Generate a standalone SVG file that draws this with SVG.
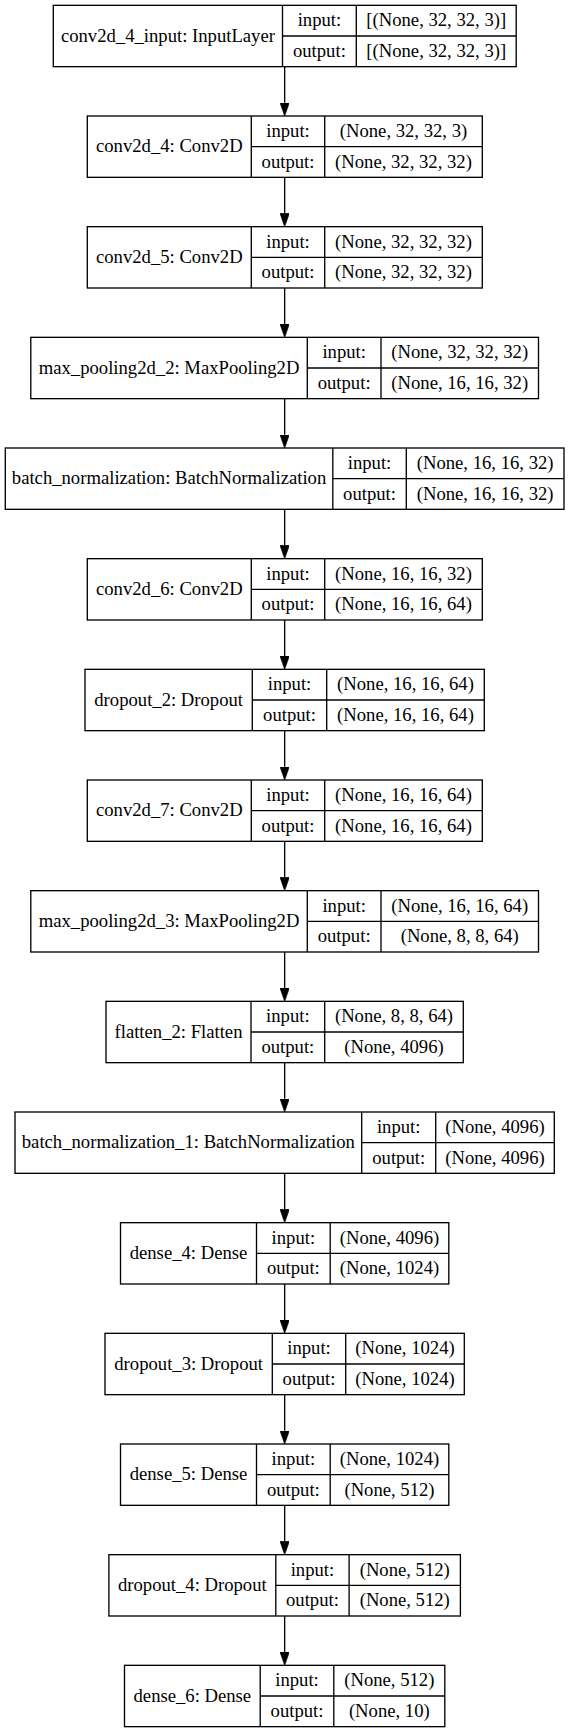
<svg xmlns="http://www.w3.org/2000/svg" width="569" height="1733" viewBox="0 0 569 1733">
<style>
.box{fill:#fff;stroke:#000;stroke-width:1.33}
.sep{stroke:#000;stroke-width:1.33}
text{font-family:"Liberation Serif","Times New Roman",serif;font-size:18.67px;fill:#000;text-anchor:middle}
.edge{stroke:#000;stroke-width:1.33;fill:none}
</style>
<defs>
<marker id="arr" viewBox="0 0 10 7" markerWidth="13.33" markerHeight="9.33" refX="0" refY="3.5" orient="auto" markerUnits="userSpaceOnUse">
<path d="M0,0 L10,3.5 L0,7 z" fill="#000" stroke="#000" stroke-width="0.5"/>
</marker>
</defs>
<rect width="569" height="1733" fill="#fff"/>
<g id="edges">
<line class="edge" x1="284.67" y1="66.67" x2="284.67" y2="102.67" marker-end="url(#arr)"/>
<line class="edge" x1="284.67" y1="177.33" x2="284.67" y2="213.33" marker-end="url(#arr)"/>
<line class="edge" x1="284.67" y1="288" x2="284.67" y2="324" marker-end="url(#arr)"/>
<line class="edge" x1="284.67" y1="398.67" x2="284.67" y2="434.67" marker-end="url(#arr)"/>
<line class="edge" x1="284.67" y1="509.33" x2="284.67" y2="545.33" marker-end="url(#arr)"/>
<line class="edge" x1="284.67" y1="620" x2="284.67" y2="656" marker-end="url(#arr)"/>
<line class="edge" x1="284.67" y1="730.67" x2="284.67" y2="766.67" marker-end="url(#arr)"/>
<line class="edge" x1="284.67" y1="841.33" x2="284.67" y2="877.33" marker-end="url(#arr)"/>
<line class="edge" x1="284.67" y1="952" x2="284.67" y2="988" marker-end="url(#arr)"/>
<line class="edge" x1="284.67" y1="1062.67" x2="284.67" y2="1098.67" marker-end="url(#arr)"/>
<line class="edge" x1="284.67" y1="1173.33" x2="284.67" y2="1209.33" marker-end="url(#arr)"/>
<line class="edge" x1="284.67" y1="1284" x2="284.67" y2="1320" marker-end="url(#arr)"/>
<line class="edge" x1="284.67" y1="1394.67" x2="284.67" y2="1430.67" marker-end="url(#arr)"/>
<line class="edge" x1="284.67" y1="1505.33" x2="284.67" y2="1541.33" marker-end="url(#arr)"/>
<line class="edge" x1="284.67" y1="1616" x2="284.67" y2="1652" marker-end="url(#arr)"/>
</g>

<g id="n0" transform="translate(0,5.33)">
<rect class="box" x="53.3" y="0" width="462.9" height="61.33"/>
<line class="sep" x1="282.5" y1="0" x2="282.5" y2="61.33"/>
<line class="sep" x1="356.3" y1="0" x2="356.3" y2="61.33"/>
<line class="sep" x1="282.5" y1="30.67" x2="516.2" y2="30.67"/>
<text x="167.9" y="36.3">conv2d_4_input: InputLayer</text>
<text x="319.4" y="20.9">input:</text>
<text x="319.4" y="51.6">output:</text>
<text x="436.25" y="20.9">[(None, 32, 32, 3)]</text>
<text x="436.25" y="51.6">[(None, 32, 32, 3)]</text>
</g>

<g id="n1" transform="translate(0,116)">
<rect class="box" x="87.3" y="0" width="395" height="61.33"/>
<line class="sep" x1="251.3" y1="0" x2="251.3" y2="61.33"/>
<line class="sep" x1="324.7" y1="0" x2="324.7" y2="61.33"/>
<line class="sep" x1="251.3" y1="30.67" x2="482.3" y2="30.67"/>
<text x="169.3" y="36.3">conv2d_4: Conv2D</text>
<text x="288" y="20.9">input:</text>
<text x="288" y="51.6">output:</text>
<text x="403.5" y="20.9">(None, 32, 32, 3)</text>
<text x="403.5" y="51.6">(None, 32, 32, 32)</text>
</g>

<g id="n2" transform="translate(0,226.67)">
<rect class="box" x="87.3" y="0" width="395" height="61.33"/>
<line class="sep" x1="251.3" y1="0" x2="251.3" y2="61.33"/>
<line class="sep" x1="324.7" y1="0" x2="324.7" y2="61.33"/>
<line class="sep" x1="251.3" y1="30.67" x2="482.3" y2="30.67"/>
<text x="169.3" y="36.3">conv2d_5: Conv2D</text>
<text x="288" y="20.9">input:</text>
<text x="288" y="51.6">output:</text>
<text x="403.5" y="20.9">(None, 32, 32, 32)</text>
<text x="403.5" y="51.6">(None, 32, 32, 32)</text>
</g>

<g id="n3" transform="translate(0,337.33)">
<rect class="box" x="30.8" y="0" width="507.7" height="61.33"/>
<line class="sep" x1="307.3" y1="0" x2="307.3" y2="61.33"/>
<line class="sep" x1="381" y1="0" x2="381" y2="61.33"/>
<line class="sep" x1="307.3" y1="30.67" x2="538.5" y2="30.67"/>
<text x="169.05" y="36.3">max_pooling2d_2: MaxPooling2D</text>
<text x="344.15" y="20.9">input:</text>
<text x="344.15" y="51.6">output:</text>
<text x="459.75" y="20.9">(None, 32, 32, 32)</text>
<text x="459.75" y="51.6">(None, 16, 16, 32)</text>
</g>

<g id="n4" transform="translate(0,448)">
<rect class="box" x="5.3" y="0" width="558.7" height="61.33"/>
<line class="sep" x1="332.8" y1="0" x2="332.8" y2="61.33"/>
<line class="sep" x1="406.3" y1="0" x2="406.3" y2="61.33"/>
<line class="sep" x1="332.8" y1="30.67" x2="564" y2="30.67"/>
<text x="169.05" y="36.3">batch_normalization: BatchNormalization</text>
<text x="369.55" y="20.9">input:</text>
<text x="369.55" y="51.6">output:</text>
<text x="485.15" y="20.9">(None, 16, 16, 32)</text>
<text x="485.15" y="51.6">(None, 16, 16, 32)</text>
</g>

<g id="n5" transform="translate(0,558.67)">
<rect class="box" x="87.3" y="0" width="395" height="61.33"/>
<line class="sep" x1="251.3" y1="0" x2="251.3" y2="61.33"/>
<line class="sep" x1="324.7" y1="0" x2="324.7" y2="61.33"/>
<line class="sep" x1="251.3" y1="30.67" x2="482.3" y2="30.67"/>
<text x="169.3" y="36.3">conv2d_6: Conv2D</text>
<text x="288" y="20.9">input:</text>
<text x="288" y="51.6">output:</text>
<text x="403.5" y="20.9">(None, 16, 16, 32)</text>
<text x="403.5" y="51.6">(None, 16, 16, 64)</text>
</g>

<g id="n6" transform="translate(0,669.33)">
<rect class="box" x="85" y="0" width="399.3" height="61.33"/>
<line class="sep" x1="252.3" y1="0" x2="252.3" y2="61.33"/>
<line class="sep" x1="326.7" y1="0" x2="326.7" y2="61.33"/>
<line class="sep" x1="252.3" y1="30.67" x2="484.3" y2="30.67"/>
<text x="168.65" y="36.3">dropout_2: Dropout</text>
<text x="289.5" y="20.9">input:</text>
<text x="289.5" y="51.6">output:</text>
<text x="405.5" y="20.9">(None, 16, 16, 64)</text>
<text x="405.5" y="51.6">(None, 16, 16, 64)</text>
</g>

<g id="n7" transform="translate(0,780)">
<rect class="box" x="87.3" y="0" width="395" height="61.33"/>
<line class="sep" x1="251.3" y1="0" x2="251.3" y2="61.33"/>
<line class="sep" x1="324.7" y1="0" x2="324.7" y2="61.33"/>
<line class="sep" x1="251.3" y1="30.67" x2="482.3" y2="30.67"/>
<text x="169.3" y="36.3">conv2d_7: Conv2D</text>
<text x="288" y="20.9">input:</text>
<text x="288" y="51.6">output:</text>
<text x="403.5" y="20.9">(None, 16, 16, 64)</text>
<text x="403.5" y="51.6">(None, 16, 16, 64)</text>
</g>

<g id="n8" transform="translate(0,890.67)">
<rect class="box" x="30.8" y="0" width="507.7" height="61.33"/>
<line class="sep" x1="307.3" y1="0" x2="307.3" y2="61.33"/>
<line class="sep" x1="381" y1="0" x2="381" y2="61.33"/>
<line class="sep" x1="307.3" y1="30.67" x2="538.5" y2="30.67"/>
<text x="169.05" y="36.3">max_pooling2d_3: MaxPooling2D</text>
<text x="344.15" y="20.9">input:</text>
<text x="344.15" y="51.6">output:</text>
<text x="459.75" y="20.9">(None, 16, 16, 64)</text>
<text x="459.75" y="51.6">(None, 8, 8, 64)</text>
</g>

<g id="n9" transform="translate(0,1001.33)">
<rect class="box" x="106" y="0" width="357.3" height="61.33"/>
<line class="sep" x1="251" y1="0" x2="251" y2="61.33"/>
<line class="sep" x1="324.7" y1="0" x2="324.7" y2="61.33"/>
<line class="sep" x1="251" y1="30.67" x2="463.3" y2="30.67"/>
<text x="178.5" y="36.3">flatten_2: Flatten</text>
<text x="287.85" y="20.9">input:</text>
<text x="287.85" y="51.6">output:</text>
<text x="394" y="20.9">(None, 8, 8, 64)</text>
<text x="394" y="51.6">(None, 4096)</text>
</g>

<g id="n10" transform="translate(0,1112)">
<rect class="box" x="15" y="0" width="539.3" height="61.33"/>
<line class="sep" x1="361.7" y1="0" x2="361.7" y2="61.33"/>
<line class="sep" x1="435.7" y1="0" x2="435.7" y2="61.33"/>
<line class="sep" x1="361.7" y1="30.67" x2="554.3" y2="30.67"/>
<text x="188.35" y="36.3">batch_normalization_1: BatchNormalization</text>
<text x="398.7" y="20.9">input:</text>
<text x="398.7" y="51.6">output:</text>
<text x="495" y="20.9">(None, 4096)</text>
<text x="495" y="51.6">(None, 4096)</text>
</g>

<g id="n11" transform="translate(0,1222.67)">
<rect class="box" x="120.5" y="0" width="328.3" height="61.33"/>
<line class="sep" x1="256.5" y1="0" x2="256.5" y2="61.33"/>
<line class="sep" x1="330.2" y1="0" x2="330.2" y2="61.33"/>
<line class="sep" x1="256.5" y1="30.67" x2="448.8" y2="30.67"/>
<text x="188.5" y="36.3">dense_4: Dense</text>
<text x="293.35" y="20.9">input:</text>
<text x="293.35" y="51.6">output:</text>
<text x="389.5" y="20.9">(None, 4096)</text>
<text x="389.5" y="51.6">(None, 1024)</text>
</g>

<g id="n12" transform="translate(0,1333.33)">
<rect class="box" x="105" y="0" width="359.3" height="61.33"/>
<line class="sep" x1="272.3" y1="0" x2="272.3" y2="61.33"/>
<line class="sep" x1="345.7" y1="0" x2="345.7" y2="61.33"/>
<line class="sep" x1="272.3" y1="30.67" x2="464.3" y2="30.67"/>
<text x="188.65" y="36.3">dropout_3: Dropout</text>
<text x="309" y="20.9">input:</text>
<text x="309" y="51.6">output:</text>
<text x="405" y="20.9">(None, 1024)</text>
<text x="405" y="51.6">(None, 1024)</text>
</g>

<g id="n13" transform="translate(0,1444)">
<rect class="box" x="120.5" y="0" width="328.3" height="61.33"/>
<line class="sep" x1="256.5" y1="0" x2="256.5" y2="61.33"/>
<line class="sep" x1="330.2" y1="0" x2="330.2" y2="61.33"/>
<line class="sep" x1="256.5" y1="30.67" x2="448.8" y2="30.67"/>
<text x="188.5" y="36.3">dense_5: Dense</text>
<text x="293.35" y="20.9">input:</text>
<text x="293.35" y="51.6">output:</text>
<text x="389.5" y="20.9">(None, 1024)</text>
<text x="389.5" y="51.6">(None, 512)</text>
</g>

<g id="n14" transform="translate(0,1554.67)">
<rect class="box" x="108.9" y="0" width="351.5" height="61.33"/>
<line class="sep" x1="275.8" y1="0" x2="275.8" y2="61.33"/>
<line class="sep" x1="349.1" y1="0" x2="349.1" y2="61.33"/>
<line class="sep" x1="275.8" y1="30.67" x2="460.4" y2="30.67"/>
<text x="192.35" y="36.3">dropout_4: Dropout</text>
<text x="312.45" y="20.9">input:</text>
<text x="312.45" y="51.6">output:</text>
<text x="404.75" y="20.9">(None, 512)</text>
<text x="404.75" y="51.6">(None, 512)</text>
</g>

<g id="n15" transform="translate(0,1665.33)">
<rect class="box" x="124.5" y="0" width="320.3" height="61.33"/>
<line class="sep" x1="260.2" y1="0" x2="260.2" y2="61.33"/>
<line class="sep" x1="333.8" y1="0" x2="333.8" y2="61.33"/>
<line class="sep" x1="260.2" y1="30.67" x2="444.8" y2="30.67"/>
<text x="192.35" y="36.3">dense_6: Dense</text>
<text x="297" y="20.9">input:</text>
<text x="297" y="51.6">output:</text>
<text x="389.3" y="20.9">(None, 512)</text>
<text x="389.3" y="51.6">(None, 10)</text>
</g>
</svg>
